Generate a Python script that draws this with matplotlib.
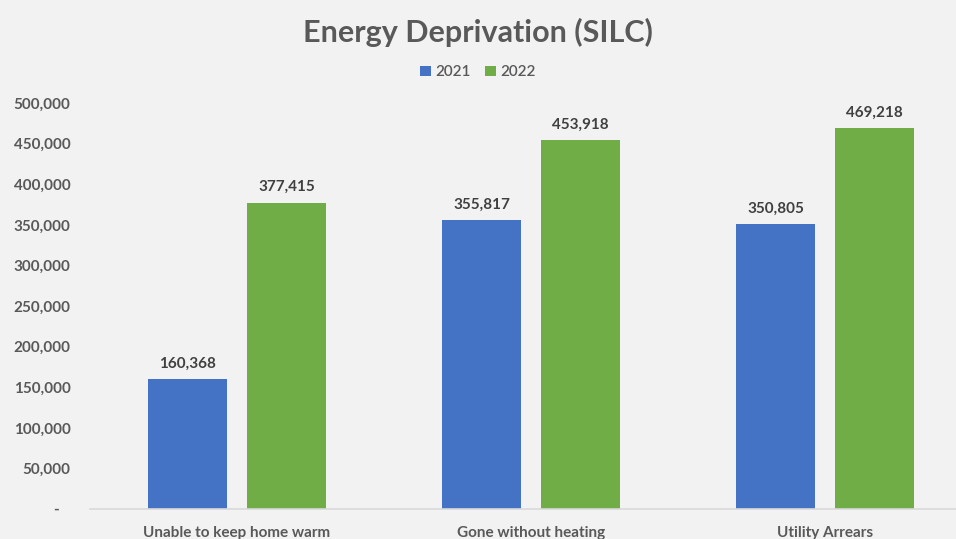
import numpy as np
import matplotlib.pyplot as plt
from matplotlib.ticker import FuncFormatter

categories = ["Unable to keep home warm", "Gone without heating", "Utility Arrears"]
values_2021 = [160368, 355817, 350805]
values_2022 = [377415, 453918, 469218]
series_names = ["2021", "2022"]

BLUE = "#4472c4"
GREEN = "#70ad47"
BG = "#f2f2f2"
TEXT = "#595959"

plt.rcParams["font.family"] = ["Lato", "DejaVu Sans"]

fig = plt.figure(figsize=(9.56, 5.39), dpi=100, facecolor=BG)
# plot area runs past the right edge, as in the cropped original
ax = fig.add_axes([90 / 956, 30 / 539, 882 / 956, 406 / 539], facecolor=BG)

x = np.arange(len(categories))
w = 0.268
off = 0.168
b1 = ax.bar(x - off, values_2021, w, color=BLUE, label=series_names[0])
b2 = ax.bar(x + off, values_2022, w, color=GREEN, label=series_names[1])

for bars in (b1, b2):
    ax.bar_label(bars, labels=[f"{v:,.0f}" for v in bars.datavalues], padding=6,
                 fontsize=11, fontweight="bold", color="#404040")

ax.set_xlim(-0.5, len(categories) - 0.5)
ax.set_ylim(0, 500000)
ax.set_yticks(np.arange(0, 500001, 50000))
ax.yaxis.set_major_formatter(FuncFormatter(lambda v, p: "-   " if v == 0 else f"{v:,.0f}"))
ax.set_xticks(x)
ax.set_xticklabels(categories)

for s in ["top", "right", "left"]:
    ax.spines[s].set_visible(False)
ax.spines["bottom"].set_color("#d9d9d9")
ax.spines["bottom"].set_linewidth(1.2)
ax.tick_params(axis="both", length=0, labelsize=11, labelcolor=TEXT)
ax.tick_params(axis="y", pad=14)
ax.tick_params(axis="x", pad=12)
for lbl in ax.get_xticklabels() + ax.get_yticklabels():
    lbl.set_fontweight("bold")

fig.text(0.5, 0.94, "Energy Deprivation (SILC)", ha="center", va="center",
         fontsize=22, fontweight="bold", color=TEXT)

fig.legend(handles=[b1, b2], loc="center", bbox_to_anchor=(0.5, 0.866), ncol=2,
           frameon=False, fontsize=11, handlelength=0.7, handleheight=0.7,
           handletextpad=0.3, columnspacing=0.9, labelcolor=TEXT,
           prop={"weight": "semibold", "size": 11})

fig.savefig("out.png", dpi=100, facecolor=BG)
